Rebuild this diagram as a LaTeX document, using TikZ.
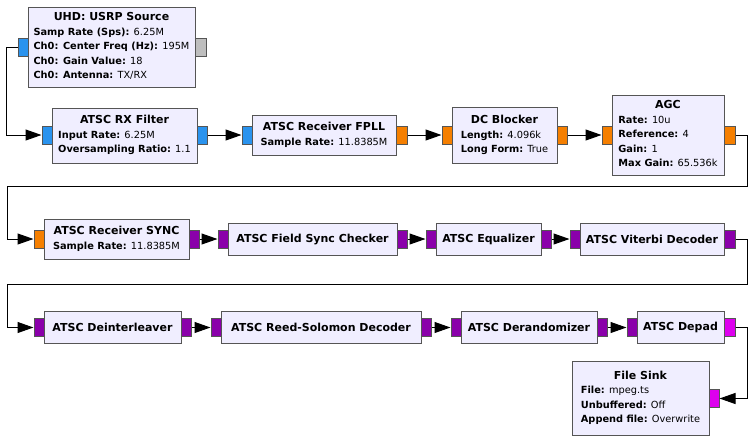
\documentclass[tikz,border=0pt]{standalone}
\usepackage{fontspec}
\setmainfont{DejaVu Sans}
\usepackage{xcolor}
\usetikzlibrary{arrows.meta}

\definecolor{blockfill}{HTML}{F0EEFF}
\definecolor{edgegray}{HTML}{555555}
\definecolor{cplxport}{HTML}{2A93EE}
\definecolor{floatport}{HTML}{F57F00}
\definecolor{byteport}{HTML}{8A00AA}
\definecolor{bitport}{HTML}{DD00EE}
\definecolor{msgport}{HTML}{BEBEBE}

\newcommand{\blocktitle}[1]{\multicolumn{1}{@{}c@{}}{\textbf{#1}}}
\newcommand{\param}[2]{{\fontsize{9.8}{14.5}\selectfont\textbf{#1:} #2}}

\begin{document}
\begin{tikzpicture}[x=1pt, y=-1pt, >={Triangle[length=16pt, width=11pt]},
    block/.style={draw=edgegray, fill=blockfill, line width=1pt, inner sep=0pt,
        font=\fontsize{11}{14.5}\selectfont},
    port/.style={draw=edgegray, line width=1pt, inner sep=0pt,
        minimum width=10pt, minimum height=18pt},
    wire/.style={->, line width=1pt}] % Setting global styles

    \useasboundingbox (0,0) rectangle (752,445);

    % 1. Row one: source, filter, FPLL, DC blocker, AGC
    \node[block, minimum width=167pt, minimum height=80pt] (usrp) at (111.5,47) {\begin{tabular}{@{}l@{}}
        \blocktitle{UHD: USRP Source}\\
        \param{Samp Rate (Sps)}{6.25M}\\
        \param{Ch0: Center Freq (Hz)}{195M}\\
        \param{Ch0: Gain Value}{18}\\
        \param{Ch0: Antenna}{TX/RX}\end{tabular}};
    \node[block, minimum width=145pt, minimum height=55pt] (rxfilter) at (124.5,135.5) {\begin{tabular}{@{}l@{}}
        \blocktitle{ATSC RX Filter}\\
        \param{Input Rate}{6.25M}\\
        \param{Oversampling Ratio}{1.1}\end{tabular}};
    \node[block, minimum width=144pt, minimum height=40pt] (fpll) at (324,135) {\begin{tabular}{@{}l@{}}
        \blocktitle{ATSC Receiver FPLL}\\
        \param{Sample Rate}{11.8385M}\end{tabular}};
    \node[block, minimum width=105pt, minimum height=56pt] (dcblock) at (504.5,135.5) {\begin{tabular}{@{}l@{}}
        \blocktitle{DC Blocker}\\
        \param{Length}{4.096k}\\
        \param{Long Form}{True}\end{tabular}};
    \node[block, minimum width=112pt, minimum height=80pt] (agc) at (668,135) {\begin{tabular}{@{}l@{}}
        \blocktitle{AGC}\\
        \param{Rate}{10u}\\
        \param{Reference}{4}\\
        \param{Gain}{1}\\
        \param{Max Gain}{65.536k}\end{tabular}};

    % 2. Row two: sync, field sync checker, equalizer, Viterbi decoder
    \node[block, minimum width=145pt, minimum height=40pt] (sync) at (116.5,239) {\begin{tabular}{@{}l@{}}
        \blocktitle{ATSC Receiver SYNC}\\
        \param{Sample Rate}{11.8385M}\end{tabular}};
    \node[block, minimum width=169pt, minimum height=32pt] (fieldsync) at (312.5,239.5) {\textbf{ATSC Field Sync Checker}};
    \node[block, minimum width=105pt, minimum height=32pt] (equalizer) at (488.5,239.5) {\textbf{ATSC Equalizer}};
    \node[block, minimum width=144pt, minimum height=32pt] (viterbi) at (652,239.5) {\textbf{ATSC Viterbi Decoder}};

    % 3. Row three: deinterleaver, Reed-Solomon, derandomizer, depad, sink
    \node[block, minimum width=137pt, minimum height=32pt] (deint) at (112.5,327.5) {\textbf{ATSC Deinterleaver}};
    \node[block, minimum width=200pt, minimum height=32pt] (rsdec) at (321,327.5) {\textbf{ATSC Reed-Solomon Decoder}};
    \node[block, minimum width=136pt, minimum height=32pt] (derand) at (529,327.5) {\textbf{ATSC Derandomizer}};
    \node[block, minimum width=87pt, minimum height=32pt] (depad) at (680.5,327.5) {\textbf{ATSC Depad}};
    \node[block, minimum width=137pt, minimum height=74pt] (sink) at (640.5,398) {\begin{tabular}{@{}l@{}}
        \blocktitle{File Sink}\\
        \param{File}{mpeg.ts}\\
        \param{Unbuffered}{Off}\\
        \param{Append file}{Overwrite}\end{tabular}};

    % 4. Ports, coloured by stream type
    \node[port, fill=cplxport] (usrpout) at (23,47) {};
    \node[port, fill=msgport, minimum width=11pt] (usrpmsg) at (201,47) {};
    \node[port, fill=cplxport] (rxin) at (47,135) {};
    \node[port, fill=cplxport] (rxout) at (202,135) {};
    \node[port, fill=cplxport] (fpllin) at (247,135) {};
    \node[port, fill=floatport, minimum width=11pt] (fpllout) at (401.5,135) {};
    \node[port, fill=floatport] (dcin) at (447,135) {};
    \node[port, fill=floatport] (dcout) at (562,135) {};
    \node[port, fill=floatport] (agcin) at (607,135) {};
    \node[port, fill=floatport, minimum width=11pt] (agcout) at (729.5,135) {};
    \node[port, fill=floatport] (syncin) at (39,239) {};
    \node[port, fill=byteport] (syncout) at (194,239) {};
    \node[port, fill=byteport] (fsin) at (223,239) {};
    \node[port, fill=byteport] (fsout) at (402,239) {};
    \node[port, fill=byteport] (eqin) at (431,239) {};
    \node[port, fill=byteport] (eqout) at (546,239) {};
    \node[port, fill=byteport] (vitin) at (575,239) {};
    \node[port, fill=byteport, minimum width=11pt] (vitout) at (729.5,239) {};
    \node[port, fill=byteport] (deintin) at (39,327.5) {};
    \node[port, fill=byteport] (deintout) at (186,327.5) {};
    \node[port, fill=byteport] (rsin) at (216,327.5) {};
    \node[port, fill=byteport] (rsout) at (426,327.5) {};
    \node[port, fill=byteport] (derin) at (456,327.5) {};
    \node[port, fill=byteport] (derout) at (602,327.5) {};
    \node[port, fill=byteport] (depin) at (632,327.5) {};
    \node[port, fill=bitport, minimum width=11pt] (depout) at (729.5,327.5) {};
    \node[port, fill=bitport] (sinkin) at (714,398.5) {};

    % 5. Connections, wrapping round at the end of each row
    \draw[wire] (usrpout.west) -- ++(-11,0) |- (rxin.west);
    \draw[wire] (rxout.east) -- (fpllin.west);
    \draw[wire] (fpllout.east) -- (dcin.west);
    \draw[wire] (dcout.east) -- (agcin.west);
    \draw[wire] (agcout.east) -- ++(12,0) |- (7,186) |- (syncin.west);
    \draw[wire] (syncout.east) -- (fsin.west);
    \draw[wire] (fsout.east) -- (eqin.west);
    \draw[wire] (eqout.east) -- (vitin.west);
    \draw[wire] (vitout.east) -- ++(12,0) |- (7,284) |- (deintin.west);
    \draw[wire] (deintout.east) -- (rsin.west);
    \draw[wire] (rsout.east) -- (derin.west);
    \draw[wire] (derout.east) -- (depin.west);
    \draw[wire] (depout.east) -- ++(12,0) |- (sinkin.east);
\end{tikzpicture}
\end{document}
